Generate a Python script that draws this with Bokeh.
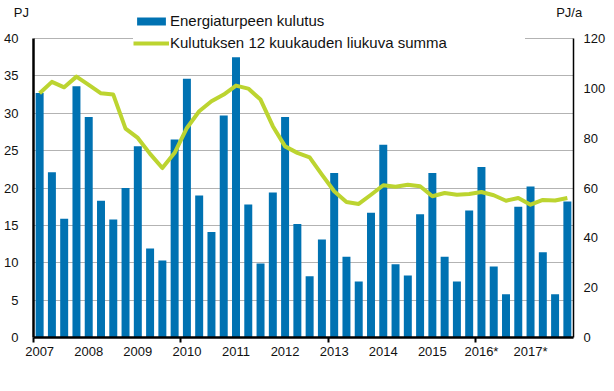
from bokeh.plotting import figure
from bokeh.models import Range1d, LinearAxis, FixedTicker, Legend, LegendItem
from bokeh.embed import file_html
from bokeh.resources import INLINE

# ---- data ----
years = ["2007", "2008", "2009", "2010", "2011", "2012",
         "2013", "2014", "2015", "2016*", "2017*"]

# quarterly consumption of energy peat, PJ (2007 Q1 ... 2017 Q4)
consumption = [32.7, 22.1, 15.9, 33.6,
               29.5, 18.3, 15.8, 20.0,
               25.6, 11.9, 10.3, 26.5,
               34.6, 19.0, 14.1, 29.7,
               37.5, 17.8, 9.9, 19.4,
               29.5, 15.2, 8.2, 13.1,
               22.0, 10.8, 7.5, 16.7,
               25.8, 9.8, 8.3, 16.5,
               22.0, 10.8, 7.5, 17.0,
               22.8, 9.5, 5.8, 17.5,
               20.2, 11.4, 5.8, 18.2]

# 12-month moving sum, PJ/a
moving_sum = [98.0, 102.6, 100.4, 104.7,
              101.4, 98.0, 97.5, 83.8,
              80.1, 73.7, 68.0, 74.1,
              84.1, 90.8, 94.8, 97.5,
              101.1, 99.9, 95.5, 84.8,
              76.7, 74.1, 72.3, 65.4,
              58.7, 54.4, 53.6, 57.3,
              61.1, 60.5, 61.3, 60.7,
              56.7, 58.0, 57.3, 57.6,
              58.4, 57.1, 54.9, 56.0,
              53.3, 55.2, 55.0, 56.0]

left_ticks = [0, 5, 10, 15, 20, 25, 30, 35, 40]
right_ticks = [0, 20, 40, 60, 80, 100, 120]

legend_labels = ["Energiaturpeen kulutus", "Kulutuksen 12 kuukauden liukuva summa"]
left_unit = "PJ"
right_unit = "PJ/a"

BLUE = "#0072b2"
GREEN = "#bcd430"
FONT = "Liberation Sans"

# layout (pixels)
W, H = 614, 391
BL, BR, BT, BB = 33, 41, 12, 54
frame_h = H - BT - BB
top_px = 38 - BT                      # distance of the 40-line below the frame top
px_per_unit = (frame_h - top_px) / left_ticks[-1]
left_top = left_ticks[-1] + top_px / px_per_unit
ratio = right_ticks[-1] / left_ticks[-1]

n = len(consumption)
xs = [i + 0.5 for i in range(n)]

p = figure(width=W, height=H, output_backend="svg", toolbar_location=None,
           x_range=Range1d(0, n), y_range=Range1d(0, left_top),
           min_border_left=BL, min_border_right=BR, min_border_top=BT, min_border_bottom=BB)
p.extra_y_ranges = {"sum": Range1d(0, left_top * ratio)}
p.outline_line_color = None
p.background_fill_color = "white"
p.border_fill_color = "white"
p.xgrid.visible = False
p.ygrid.grid_line_color = "#b3b3b3"
p.ygrid.grid_line_width = 1

bars = p.vbar(x=xs, top=consumption, width=0.65, fill_color=BLUE, line_color=None)
line = p.line(x=xs, y=moving_sum, y_range_name="sum", line_color=GREEN,
              line_width=4, line_join="round")

# x axis
xa = p.xaxis[0]
year_pos = [i * 4 + 0.5 for i in range(len(years))]
xa.ticker = FixedTicker(ticks=year_pos, minor_ticks=[0, 12, 24, 36])
xa.major_label_overrides = {pos: lab for pos, lab in zip(year_pos, years)}
xa.major_tick_out = 0
xa.major_tick_in = 0
xa.minor_tick_out = 5
xa.minor_tick_in = 0
xa.minor_tick_line_color = "black"
xa.minor_tick_line_width = 2
xa.axis_line_color = "black"
xa.axis_line_width = 2.5
xa.major_label_standoff = 1
xa.major_label_text_font = FONT
xa.major_label_text_font_size = "13px"
xa.major_label_text_color = "#111111"

# left y axis
ya = p.yaxis[0]
ya.ticker = FixedTicker(ticks=left_ticks)
ya.bounds = (left_ticks[0], left_ticks[-1])
ya.major_tick_out = 0
ya.major_tick_in = 0
ya.minor_tick_out = 0
ya.minor_tick_in = 0
ya.axis_line_color = "black"
ya.axis_line_width = 2.5
ya.major_label_standoff = 15
ya.major_label_text_font = FONT
ya.major_label_text_font_size = "13px"
ya.major_label_text_color = "#111111"
ya.axis_label = left_unit
ya.axis_label_orientation = "horizontal"
ya.axis_label_align = "end"
ya.axis_label_standoff = -28
ya.axis_label_text_align = "left"
ya.axis_label_text_font = FONT
ya.axis_label_text_font_size = "13px"
ya.axis_label_text_font_style = "normal"
ya.axis_label_text_color = "#111111"

# right y axis
ra = LinearAxis(y_range_name="sum", ticker=FixedTicker(ticks=right_ticks))
ra.bounds = (right_ticks[0], right_ticks[-1])
ra.major_tick_out = 0
ra.major_tick_in = 0
ra.minor_tick_out = 0
ra.minor_tick_in = 0
ra.axis_line_color = "black"
ra.axis_line_width = 1.5
ra.major_label_standoff = 10
ra.major_label_text_font = FONT
ra.major_label_text_font_size = "13px"
ra.major_label_text_color = "#111111"
ra.axis_label = right_unit
ra.axis_label_orientation = "horizontal"
ra.axis_label_align = "end"
ra.axis_label_standoff = -52
ra.axis_label_text_font = FONT
ra.axis_label_text_font_size = "13px"
ra.axis_label_text_font_style = "normal"
ra.axis_label_text_color = "#111111"
p.add_layout(ra, "right")

legend = Legend(items=[LegendItem(label=legend_labels[0], renderers=[bars]),
                       LegendItem(label=legend_labels[1], renderers=[line])],
                location=(100, 285), margin=0, padding=3, spacing=3,
                glyph_width=36, glyph_height=10, label_height=19, label_width=355,
                label_standoff=1, label_text_font=FONT, label_text_font_size="15px",
                label_text_color="#111111", border_line_color=None,
                background_fill_color="white", background_fill_alpha=1.0)
p.add_layout(legend)

open("out.html", "w").write(file_html(p, INLINE))
